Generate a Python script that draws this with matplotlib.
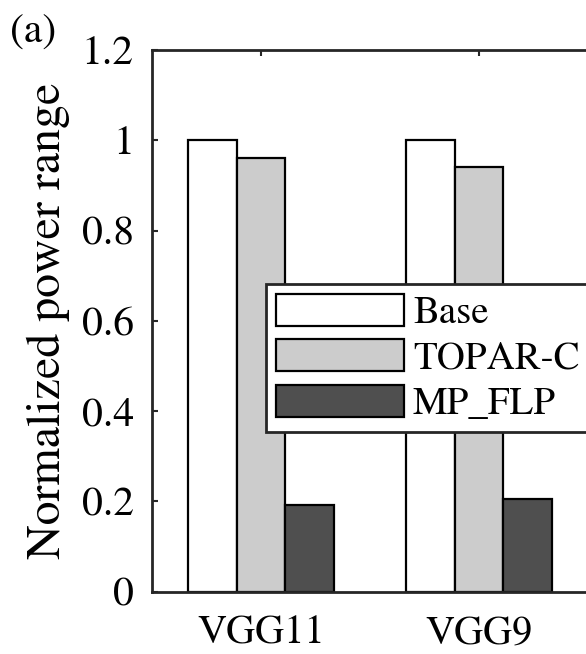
import matplotlib
matplotlib.use("Agg")
import matplotlib.pyplot as plt
import numpy as np

categories = ["VGG11", "VGG9"]
series_names = ["Base", "TOPAR-C", "MP_FLP"]
base = [1.0, 1.0]
topar_c = [0.96, 0.94]
mp_flp = [0.191, 0.205]
yticks = [0, 0.2, 0.4, 0.6, 0.8, 1.0, 1.2]
ytick_labels = ["0", "0.2", "0.4", "0.6", "0.8", "1", "1.2"]

colors = ["#ffffff", "#cccccc", "#4f4f4f"]
plt.rcParams["font.family"] = ["STIXGeneral", "DejaVu Serif"]
plt.rcParams["mathtext.fontset"] = "stix"

W, H = 586, 654
fig = plt.figure(figsize=(W / 100, H / 100), dpi=100)
left, right_px, top, bottom = 152, 588, 50, 591.5
ax = fig.add_axes([left / W, (H - bottom) / H, (right_px - left) / W, (bottom - top) / H])

x = np.arange(1, len(categories) + 1)
bw = 0.222
for i, (vals, name, c) in enumerate(zip([base, topar_c, mp_flp], series_names, colors)):
    ax.bar(x + (i - 1) * bw, vals, width=bw, color=c, edgecolor="black",
           linewidth=1.6, label=name, zorder=2)

ax.set_xlim(0.5, 2.5)
ax.set_ylim(0, 1.2)
ax.set_xticks(x)
ax.set_xticklabels(categories, fontsize=29)
ax.set_yticks(yticks)
ax.set_yticklabels(ytick_labels, fontsize=30)
ax.tick_params(axis="both", direction="in", length=4.5, width=1.5, color="#262626",
               top=True, right=False, pad=13)
ax.tick_params(axis="x", pad=17)
for s in ax.spines.values():
    s.set_linewidth(2.0)
    s.set_color("#262626")

ax.set_ylabel("Normalized power range", fontsize=34.5)
ax.yaxis.set_label_coords((70 - left) / (right_px - left), 0.5)

fs = 28
em = fs * 100 / 72
leg = fig.legend(loc="upper left", bbox_to_anchor=(266 / W, 1 - 283.5 / H),
                 fontsize=fs, frameon=True, fancybox=False, framealpha=1,
                 handlelength=128 / em, handleheight=35 / em, labelspacing=8 / em,
                 handletextpad=9 / em, borderpad=10 / em, borderaxespad=0)
leg.get_frame().set_edgecolor("#262626")
leg.get_frame().set_linewidth(2.0)

fig.text(10 / W, 1 - 43 / H, "(a)", fontsize=30, va="baseline", ha="left")

fig.savefig("out.png", dpi=100)
